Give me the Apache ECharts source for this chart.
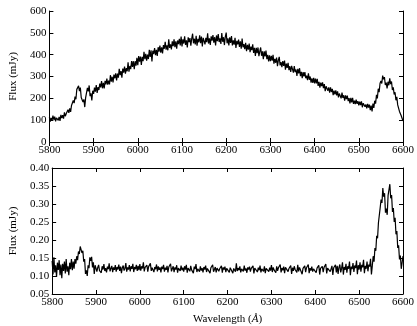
<!DOCTYPE html>
<html>
<head>
<meta charset="utf-8">
<script src="https://cdn.jsdelivr.net/npm/echarts@6/dist/echarts.min.js"></script>
<style>
  html, body { margin: 0; padding: 0; background: #fff; }
  #chart { width: 417px; height: 326px; }
</style>
</head>
<body>
<div id="chart"></div>
<script>
// wavelength grid of the spectra (Angstrom), one row below = 50 A
const waveStart = 5800
const waveStep = 2

// upper panel, flux in mJy
const fluxTop = [
  115, 93, 110, 98, 121, 102, 116, 94, 111, 119, 99, 115, 97, 124, 109, 123, 107, 136, 118, 129, 120, 148, 133, 154, 138,
  167, 159, 190, 178, 208, 196, 241, 233, 257, 233, 249, 204, 211, 183, 195, 160, 203, 209, 248, 232, 259, 210, 223, 190, 235,
  220, 249, 231, 261, 225, 251, 238, 267, 250, 279, 246, 271, 245, 280, 264, 290, 263, 281, 264, 306, 276, 299, 273, 309, 292,
  314, 282, 313, 295, 335, 306, 325, 295, 336, 318, 345, 313, 338, 324, 365, 322, 348, 334, 371, 344, 370, 333, 370, 350, 385,
  352, 394, 368, 391, 353, 390, 370, 413, 379, 404, 372, 400, 380, 422, 390, 420, 369, 418, 403, 430, 398, 422, 394, 434, 414,
  442, 409, 434, 406, 444, 427, 459, 423, 443, 420, 470, 431, 447, 424, 461, 439, 470, 434, 461, 427, 465, 448, 473, 442, 483,
  438, 470, 451, 484, 445, 466, 433, 479, 457, 476, 441, 473, 496, 452, 473, 447, 486, 441, 472, 457, 489, 453, 483, 438, 477,
  485, 447, 477, 457, 498, 451, 475, 445, 484, 464, 490, 455, 480, 442, 488, 462, 494, 458, 475, 449, 499, 459, 480, 444, 483,
  501, 452, 475, 442, 479, 454, 485, 442, 465, 446, 477, 431, 463, 447, 469, 435, 461, 427, 474, 434, 448, 425, 454, 416, 445,
  423, 451, 411, 437, 421, 447, 408, 431, 394, 431, 407, 433, 393, 415, 433, 395, 415, 379, 415, 392, 419, 379, 399, 369, 397,
  370, 395, 373, 399, 359, 381, 363, 387, 347, 375, 390, 351, 366, 343, 371, 349, 373, 331, 359, 339, 363, 329, 347, 321, 349,
  345, 318, 348, 320, 332, 303, 335, 314, 338, 302, 321, 292, 320, 300, 320, 292, 304, 283, 315, 285, 300, 272, 291, 271, 294,
  268, 290, 268, 289, 257, 275, 249, 272, 256, 273, 247, 265, 233, 255, 263, 235, 250, 226, 250, 229, 243, 215, 235, 218, 236,
  214, 232, 204, 222, 224, 200, 226, 202, 214, 189, 214, 196, 212, 187, 201, 177, 202, 182, 202, 175, 189, 174, 194, 175, 187,
  168, 185, 169, 186, 159, 178, 181, 161, 172, 154, 175, 158, 171, 146, 167, 140, 176, 156, 189, 176, 216, 200, 244, 228, 268,
  280, 268, 304, 287, 297, 261, 272, 245, 276, 260, 292, 265, 277, 238, 250, 218, 228, 191, 207, 170, 175, 140, 148, 120, 121,
  96
]

// lower panel, flux in mJy
const fluxBottom = [
  .142, .104, .152, .110, .130, .097, .137, .117, .144, .102, .132, .094, .134, .114, .140, .107, .147, .112, .127, .102, .137, .119, .147, .116, .140,
  .120, .147, .134, .155, .144, .168, .161, .182, .183, .164, .170, .140, .147, .106, .116, .100, .130, .122, .152, .142, .153, .124, .138, .106, .130,
  .128, .112, .124, .131, .115, .120, .109, .127, .118, .133, .114, .122, .110, .126, .119, .135, .113, .121, .128, .111, .124, .117, .130, .112, .125,
  .118, .132, .114, .126, .108, .123, .129, .115, .121, .136, .112, .124, .118, .130, .113, .127, .120, .134, .111, .125, .119, .131, .114, .128, .116,
  .133, .115, .127, .121, .138, .113, .124, .119, .130, .112, .126, .122, .135, .114, .123, .128, .111, .125, .119, .132, .113, .127, .117, .124, .110,
  .126, .119, .131, .112, .123, .117, .128, .110, .125, .121, .134, .113, .120, .127, .111, .124, .118, .130, .109, .122, .126, .114, .129, .116, .123,
  .112, .127, .118, .131, .109, .122, .125, .113, .128, .117, .121, .108, .126, .119, .133, .111, .120, .124, .112, .127, .115, .122, .110, .125, .118,
  .129, .111, .121, .116, .126, .108, .123, .119, .131, .112, .118, .125, .110, .122, .127, .113, .120, .116, .128, .109, .124, .118, .126, .111, .121,
  .117, .126, .110, .123, .119, .128, .108, .121, .124, .112, .135, .114, .122, .116, .127, .110, .120, .125, .113, .129, .115, .121, .109, .124, .118,
  .126, .112, .121, .117, .128, .107, .122, .119, .125, .111, .123, .116, .129, .110, .120, .124, .113, .127, .108, .121, .118, .126, .112, .123, .115,
  .130, .111, .124, .117, .121, .109, .127, .114, .123, .119, .132, .110, .122, .116, .126, .108, .124, .120, .128, .112, .121, .117, .129, .106, .123,
  .114, .127, .118, .122, .110, .131, .113, .124, .119, .126, .105, .121, .117, .128, .111, .123, .120, .132, .108, .122, .115, .126, .112, .120, .116,
  .125, .109, .122, .118, .130, .104, .121, .116, .127, .111, .124, .119, .133, .107, .122, .117, .126, .112, .120, .128, .103, .123, .118, .131, .110,
  .128, .106, .124, .132, .110, .121, .138, .104, .125, .117, .134, .109, .127, .120, .140, .102, .126, .119, .136, .111, .129, .122, .143, .105, .130,
  .118, .138, .112, .131, .124, .145, .108, .128, .120, .140, .113, .132, .126, .148, .104, .128, .155, .140, .178, .170, .212, .205, .248, .245, .290,
  .312, .303, .344, .320, .330, .276, .287, .270, .324, .328, .355, .316, .325, .278, .289, .250, .262, .216, .225, .178, .185, .146, .157, .120, .137,
  .155
]

const topTicks = [0, 600, 100]
const bottomTicks = [0.05, 0.40, 0.05]
const waveTicks = [5800, 6600, 100]

const font = "'Liberation Serif', 'Times New Roman', serif"

function pairs(arr) {
  return arr.map((v, i) => [waveStart + i * waveStep, v])
}

function xAx(grid, pos, labels, name) {
  return {
    type: 'value', gridIndex: grid, position: pos,
    min: waveTicks[0], max: waveTicks[1], interval: waveTicks[2],
    name: name || '', nameLocation: 'middle', nameGap: 20,
    nameTextStyle: {
      color: '#000', fontFamily: font, fontSize: 11,
      rich: {
        a: { fontFamily: font, fontSize: 11, color: '#000' },
        i: { fontStyle: 'italic', fontFamily: font, fontSize: 11, color: '#000' }
      }
    },
    axisLine: { show: true, lineStyle: { color: '#000', width: 1 } },
    axisTick: { show: true, inside: true, length: 4, lineStyle: { color: '#000' } },
    axisLabel: {
      show: labels, color: '#000', fontFamily: font, fontSize: 11, margin: 3,
      formatter: v => String(v)
    },
    splitLine: { show: false }
  }
}

function yAx(grid, pos, ticks, labels, dec) {
  return {
    type: 'value', gridIndex: grid, position: pos,
    min: ticks[0], max: ticks[1], interval: ticks[2],
    name: labels ? 'Flux (mJy)' : '', nameLocation: 'middle', nameGap: 27,
    nameTextStyle: { color: '#000', fontFamily: font, fontSize: 11 },
    axisLine: { show: true, lineStyle: { color: '#000', width: 1 } },
    axisTick: { show: true, inside: true, length: 4, lineStyle: { color: '#000' } },
    axisLabel: {
      show: labels, color: '#000', fontFamily: font, fontSize: 11, margin: 3,
      formatter: v => v.toFixed(dec)
    },
    splitLine: { show: false }
  }
}

const chart = echarts.init(document.getElementById('chart'))
chart.setOption({
  animation: false,
  grid: [
    { left: 35, right: 11, top: 11, height: 131 },
    { left: 35, right: 11, top: 168, height: 129 }
  ],
  xAxis: [
    xAx(0, 'bottom', true),
    xAx(1, 'bottom', true, '{a|Wavelength (}{i|Å}{a|)}'),
    xAx(0, 'top', false),
    xAx(1, 'top', false)
  ],
  yAxis: [
    yAx(0, 'left', topTicks, true, 0),
    yAx(1, 'left', bottomTicks, true, 2),
    yAx(0, 'right', topTicks, false, 0),
    yAx(1, 'right', bottomTicks, false, 2)
  ],
  series: [
    {
      type: 'line', xAxisIndex: 0, yAxisIndex: 0, data: pairs(fluxTop),
      showSymbol: false, lineStyle: { color: '#000', width: 1.2 }
    },
    {
      type: 'line', xAxisIndex: 1, yAxisIndex: 1, data: pairs(fluxBottom),
      showSymbol: false, lineStyle: { color: '#000', width: 1.2 }
    }
  ]
})
</script>
</body>
</html>
